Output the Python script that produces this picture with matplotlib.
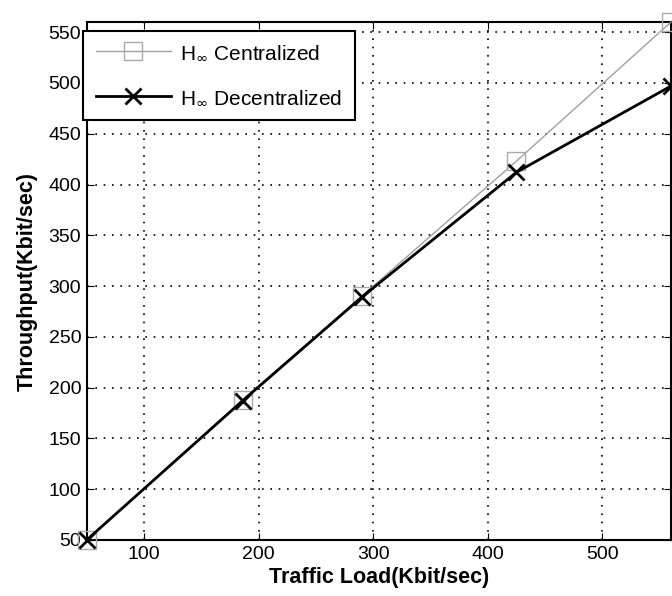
import matplotlib
matplotlib.use('Agg')
import matplotlib.pyplot as plt

# data
traffic_load = [50, 186, 290, 425, 560]
thr_central = [50, 188, 290, 423, 560]
thr_decentral = [50, 187, 289, 412, 497]

plt.rcParams['font.family'] = ['Liberation Sans', 'DejaVu Sans']

fig = plt.figure(figsize=(6.72, 5.96), dpi=100)
ax = fig.add_axes([0.129, 0.094, 0.8695, 0.869])

ax.plot(traffic_load, thr_central, color='#a0a0a0', linewidth=1.0,
        marker='s', markersize=13, markerfacecolor='none',
        markeredgecolor='#aaaaaa', markeredgewidth=1.0,
        label=r'H$_{\infty}$ Centralized', clip_on=False, zorder=3)
ax.plot(traffic_load, thr_decentral, color='black', linewidth=2.0,
        marker='x', markersize=12, markeredgewidth=2.0,
        label=r'H$_{\infty}$ Decentralized', clip_on=False, zorder=4)

ax.set_xlim(50, 560)
ax.set_ylim(50, 560)
ax.set_xticks([100, 200, 300, 400, 500])
ax.set_yticks(range(50, 551, 50))
ax.tick_params(direction='in', labelsize=14, length=5, top=True, right=True,
               labeltop=False, labelright=False, pad=4)
for s in ax.spines.values():
    s.set_linewidth(1.5)

ax.set_xlabel('Traffic Load(Kbit/sec)', fontsize=15.5, fontweight='bold', labelpad=3)
ax.set_ylabel('Throughput(Kbit/sec)', fontsize=15.5, fontweight='bold', labelpad=8)

ax.grid(True, linestyle=(0, (1, 4)), color='black', linewidth=1.2)

leg = ax.legend(loc='upper left', fontsize=15, fancybox=False, framealpha=1,
                edgecolor='black', bbox_to_anchor=(83 / 672, 1 - 31 / 596),
                bbox_transform=fig.transFigure, borderaxespad=0,
                handlelength=3.6, handletextpad=0.45,
                labelspacing=1.25, borderpad=0.6)
leg.get_frame().set_linewidth(1.5)
leg.set_zorder(10)

plt.savefig('out.png', dpi=100)
